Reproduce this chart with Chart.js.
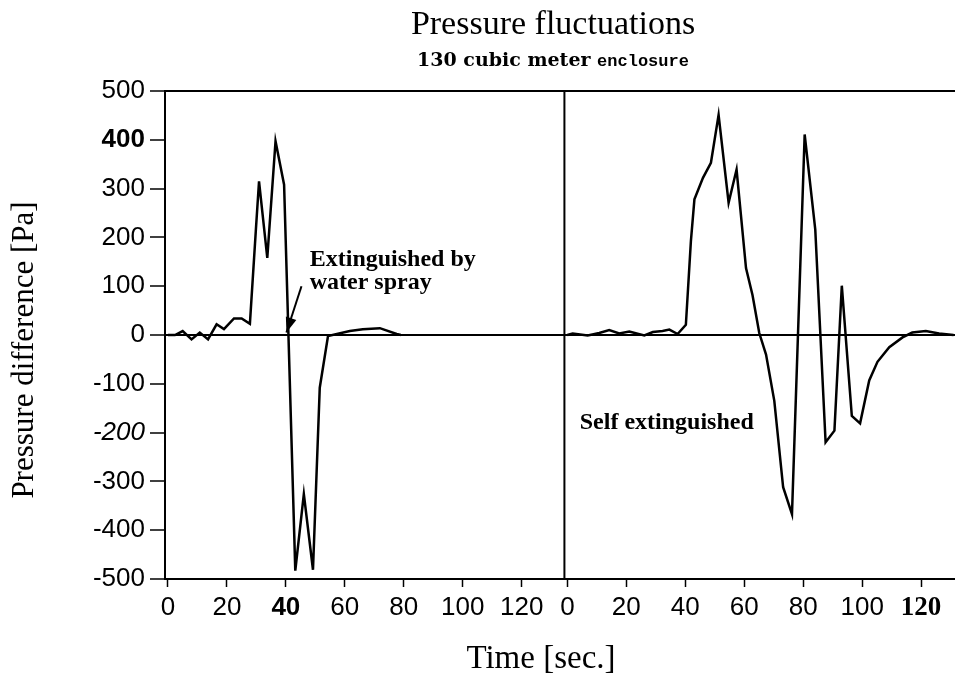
<!DOCTYPE html>
<html>
<head>
<meta charset="utf-8">
<title>Pressure fluctuations</title>
<script src="https://cdn.jsdelivr.net/npm/chart.js@4.4.1/dist/chart.umd.min.js"></script>
<style>
html, body { margin: 0; padding: 0; background: #fff; }
#wrap { position: relative; width: 955px; height: 688px; }
</style>
</head>
<body>
<div id="wrap"><canvas id="pressureChart"></canvas></div>
<script>
// ------------------------------
// Data
// ------------------------------

// test 1 : extinguished by water spray
const sprayTime = [0, 2.4, 5.0, 8.0, 10.8, 13.6, 16.5, 19.0, 22.4, 25.0, 27.8, 29.8, 30.9, 33.7, 36.5, 39.4,
    43.2, 46.1, 49.2, 51.5, 54.3, 61.7, 66.1, 71.9, 77.6, 79];
const sprayPressure = [0, 0, 8, -9, 5, -9, 22, 12, 34, 34, 23, 213, 315, 158, 397, 308,
    -483, -326, -481, -108, -2, 8, 12, 14, 2, 0];

// test 2 : self extinguished
const selfTime = [0, 1.8, 6.9, 10.8, 14.2, 17.6, 21.0, 26.1, 29.0, 32.3, 34.6, 37.4, 40.2, 41.9, 43.1,
    46.0, 48.7, 51.3, 54.7, 57.4, 60.6, 62.8, 65.1, 67.4, 70.2, 73.2, 76.2, 80.5, 84.1, 87.6,
    90.6, 93.1, 96.5, 99.3, 102.4, 105.2, 109.2, 113.7, 117.0, 121.6, 126.1, 131.0];
const selfPressure = [0, 3, -1, 4, 10, 3, 7, -1, 6, 8, 11, 2, 21, 192, 278,
    322, 353, 451, 271, 339, 137, 82, 4, -40, -135, -312, -367, 411, 216, -220,
    -196, 101, -166, -181, -93, -55, -25, -5, 5, 8, 3, 0];

// tick labels
const timeTicks = [0, 20, 40, 60, 80, 100, 120];
const pressureMin = -500;
const pressureMax = 500;
const pressureStep = 100;

// both tests share one time axis, second panel starts here
const rightOffset = 135.5;
const panelDivider = 134.5;

// ------------------------------
// Helpers
// ------------------------------

function toPoints(times, values, offset) {
    return times.map((t, i) => ({ x: t + offset, y: values[i] }));
}

const SANS = '"Liberation Sans", Arial, sans-serif';
const SERIF = '"Liberation Serif", "Times New Roman", serif';

// ------------------------------
// Frame, titles and notes
// ------------------------------

const frameAndNotes = {
    id: 'frameAndNotes',
    afterDraw(chart) {
        const { ctx, chartArea, scales } = chart;
        const x = scales.x, y = scales.y;
        ctx.save();
        ctx.strokeStyle = '#000';
        ctx.fillStyle = '#000';

        // top frame line + divider between the two tests
        ctx.lineWidth = 2;
        ctx.beginPath();
        ctx.moveTo(chartArea.left, chartArea.top);
        ctx.lineTo(chartArea.right, chartArea.top);
        const dx = x.getPixelForValue(panelDivider);
        ctx.moveTo(dx, chartArea.top);
        ctx.lineTo(dx, chartArea.bottom);
        ctx.stroke();

        // main title
        ctx.textAlign = 'center';
        ctx.textBaseline = 'alphabetic';
        ctx.font = '34px ' + SERIF;
        ctx.fillText('Pressure fluctuations', 553, 34);

        // sub title, two fonts like the scan
        const part1 = '130 cubic meter ';
        const part2 = 'enclosure';
        const f1 = 'bold 19px "DejaVu Serif", serif';
        const f2 = 'bold 17px "Liberation Mono", monospace';
        ctx.font = f1;
        const w1 = ctx.measureText(part1).width;
        ctx.font = f2;
        const w2 = ctx.measureText(part2).width;
        const sx = 553 - (w1 + w2) / 2;
        ctx.textAlign = 'left';
        ctx.font = f1;
        ctx.fillText(part1, sx, 66);
        ctx.font = f2;
        ctx.fillText(part2, sx + w1, 66);

        // axis titles
        ctx.textAlign = 'center';
        ctx.font = '33px ' + SERIF;
        ctx.fillText('Time [sec.]', 541, 668);

        ctx.font = '31px ' + SERIF;
        ctx.save();
        ctx.translate(25, 350);
        ctx.rotate(-Math.PI / 2);
        ctx.textBaseline = 'middle';
        ctx.fillText('Pressure difference [Pa]', 0, 0);
        ctx.restore();

        // notes inside the plot
        ctx.textAlign = 'left';
        ctx.font = 'bold 24px ' + SERIF;
        ctx.fillText('Extinguished by', x.getPixelForValue(48.1), y.getPixelForValue(141));
        ctx.fillText('water spray', x.getPixelForValue(48.1), y.getPixelForValue(93.5));
        ctx.fillText('Self extinguished', x.getPixelForValue(rightOffset + 4.2), y.getPixelForValue(-193));

        // arrow to the moment of spraying
        const tipX = x.getPixelForValue(40.2), tipY = y.getPixelForValue(5);
        const tailX = x.getPixelForValue(45.3), tailY = y.getPixelForValue(100);
        const a = Math.atan2(tipY - tailY, tipX - tailX);
        ctx.lineWidth = 2;
        ctx.beginPath();
        ctx.moveTo(tailX, tailY);
        ctx.lineTo(tipX, tipY);
        ctx.stroke();
        ctx.beginPath();
        ctx.moveTo(tipX, tipY);
        ctx.lineTo(tipX - 16 * Math.cos(a - 0.35), tipY - 16 * Math.sin(a - 0.35));
        ctx.lineTo(tipX - 16 * Math.cos(a + 0.35), tipY - 16 * Math.sin(a + 0.35));
        ctx.closePath();
        ctx.fill();

        ctx.restore();
    }
};

// ------------------------------
// Chart
// ------------------------------

new Chart(document.getElementById('pressureChart'), {
    type: 'line',
    data: {
        datasets: [
            {
                label: 'Extinguished by water spray',
                data: toPoints(sprayTime, sprayPressure, 0),
                borderColor: '#000',
                borderWidth: 2.5,
                pointRadius: 0,
                fill: false,
                tension: 0
            },
            {
                label: 'Self extinguished',
                data: toPoints(selfTime, selfPressure, rightOffset),
                borderColor: '#000',
                borderWidth: 2.5,
                pointRadius: 0,
                fill: false,
                tension: 0
            }
        ]
    },
    options: {
        responsive: true,
        maintainAspectRatio: false,
        animation: false,
        layout: { padding: { top: 91, right: 0, bottom: 0, left: 0 } },
        plugins: {
            legend: { display: false },
            tooltip: { enabled: false }
        },
        scales: {
            x: {
                type: 'linear',
                min: -1,
                max: 267,
                afterBuildTicks(scale) {
                    scale.ticks = timeTicks.map(v => ({ value: v }))
                        .concat(timeTicks.map(v => ({ value: v + rightOffset })));
                },
                afterFit(scale) { scale.height = 109; },
                ticks: {
                    autoSkip: false,
                    maxRotation: 0,
                    padding: 5,
                    color: '#000',
                    callback(value) {
                        return value >= rightOffset ? String(Math.round(value - rightOffset)) : String(value);
                    },
                    font(c) {
                        const v = c.tick ? c.tick.value : 0;
                        if (v === 40) return { family: SANS, size: 26, weight: 'bold' };
                        if (v === 120 + rightOffset) return { family: SERIF, size: 27, weight: 'bold' };
                        return { family: SANS, size: 26 };
                    }
                },
                grid: { drawOnChartArea: false, tickLength: 8, tickColor: '#000', tickWidth: 1.5 },
                border: { color: '#000', width: 2 }
            },
            y: {
                min: pressureMin,
                max: pressureMax,
                afterFit(scale) { scale.width = 165; },
                ticks: {
                    stepSize: pressureStep,
                    padding: 5,
                    color: '#000',
                    font(c) {
                        const v = c.tick ? c.tick.value : 0;
                        if (v === 400) return { family: SANS, size: 26, weight: 'bold' };
                        if (v === -200) return { family: SANS, size: 26, style: 'italic' };
                        return { family: SANS, size: 26 };
                    }
                },
                grid: {
                    color: c => (c.tick && c.tick.value === 0 ? '#000' : 'rgba(0,0,0,0)'),
                    lineWidth: 2,
                    tickLength: 15,
                    tickColor: '#000',
                    tickWidth: 1.5
                },
                border: { color: '#000', width: 2 }
            }
        }
    },
    plugins: [frameAndNotes]
});
</script>
</body>
</html>
